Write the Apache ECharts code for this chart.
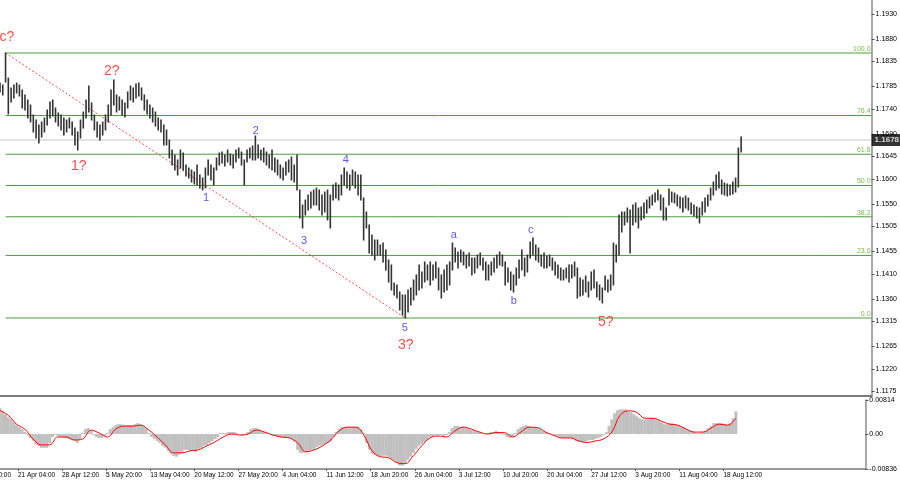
<!DOCTYPE html>
<html><head><meta charset="utf-8">
<script src="https://cdn.jsdelivr.net/npm/echarts@6/dist/echarts.min.js"></script>
<style>html,body{margin:0;padding:0;background:#fff}#c{width:900px;height:485px}</style>
</head><body><div id="c"></div>
<script>
// ---------- data ----------
const timeLabels = ['13 Apr 20:00','21 Apr 04:00','28 Apr 12:00','5 May 20:00','13 May 04:00','20 May 12:00','27 May 20:00','4 Jun 04:00','11 Jun 12:00','18 Jun 20:00','26 Jun 04:00','3 Jul 12:00','10 Jul 20:00','20 Jul 04:00','27 Jul 12:00','3 Aug 20:00','11 Aug 04:00','18 Aug 12:00'];
const priceTicks = [1.1175,1.1220,1.1265,1.1315,1.1360,1.1410,1.1455,1.1505,1.1550,1.1600,1.1645,1.1690,1.1740,1.1785,1.1835,1.1880,1.1930];
const macdTicks = [-0.00836, 0, 0.00814];
const highs = [
1.1792,1.1788,1.1852,1.1802,1.1782,1.1788,1.1792,1.1788,1.1778,1.1768,
1.1758,1.1748,1.1728,1.1718,1.1708,1.1714,1.1722,1.1738,1.1754,1.1758,
1.1742,1.1732,1.1728,1.1722,1.1718,1.1722,1.1714,1.1702,1.1694,1.1718,
1.1734,1.1758,1.1786,1.1752,1.1728,1.1714,1.1708,1.1714,1.1728,1.1748,
1.1778,1.1798,1.1768,1.1764,1.1758,1.1752,1.1774,1.1786,1.1782,1.1790,
1.1792,1.1782,1.1768,1.1758,1.1748,1.1742,1.1734,1.1722,1.1718,1.1708,
1.1698,1.1678,1.1658,1.1648,1.1638,1.1658,1.1652,1.1628,1.1622,1.1618,
1.1614,1.1628,1.1608,1.1602,1.1622,1.1638,1.1628,1.1622,1.1642,1.1652,
1.1654,1.1648,1.1658,1.1650,1.1648,1.1658,1.1662,1.1654,1.1638,1.1658,
1.1662,1.1666,1.1686,1.1668,1.1658,1.1662,1.1654,1.1648,1.1658,1.1642,
1.1638,1.1628,1.1622,1.1634,1.1638,1.1644,1.1628,1.1648,1.1578,1.1548,
1.1558,1.1568,1.1574,1.1578,1.1582,1.1578,1.1568,1.1574,1.1578,1.1568,
1.1588,1.1592,1.1588,1.1608,1.1622,1.1614,1.1608,1.1618,1.1614,1.1608,
1.1608,1.1562,1.1534,1.1508,1.1488,1.1478,1.1478,1.1468,1.1472,1.1458,
1.1438,1.1428,1.1392,1.1388,1.1374,1.1368,1.1368,1.1378,1.1382,1.1398,
1.1408,1.1428,1.1414,1.1434,1.1428,1.1434,1.1428,1.1434,1.1422,1.1408,
1.1418,1.1428,1.1434,1.1472,1.1462,1.1454,1.1458,1.1454,1.1448,1.1452,
1.1442,1.1442,1.1448,1.1452,1.1442,1.1434,1.1428,1.1434,1.1442,1.1448,
1.1454,1.1448,1.1434,1.1422,1.1414,1.1408,1.1422,1.1438,1.1458,1.1442,
1.1448,1.1474,1.1482,1.1468,1.1462,1.1448,1.1452,1.1446,1.1448,1.1442,
1.1434,1.1428,1.1422,1.1418,1.1422,1.1428,1.1428,1.1434,1.1422,1.1402,
1.1398,1.1406,1.1394,1.1414,1.1418,1.1394,1.1388,1.1382,1.1406,1.1398,
1.1408,1.1472,1.1468,1.1528,1.1534,1.1534,1.1542,1.1538,1.1548,1.1552,
1.1542,1.1544,1.1552,1.1558,1.1564,1.1568,1.1572,1.1578,1.1568,1.1562,
1.1542,1.1580,1.1574,1.1572,1.1568,1.1564,1.1562,1.1566,1.1562,1.1552,
1.1548,1.1544,1.1542,1.1554,1.1562,1.1568,1.1582,1.1594,1.1608,1.1614,
1.1598,1.1592,1.1590,1.1588,1.1594,1.1602,1.1662,1.1684];
const lows = [
1.1774,1.1768,1.1794,1.1730,1.1754,1.1762,1.1772,1.1766,1.1742,1.1738,
1.1722,1.1714,1.1694,1.1682,1.1672,1.1684,1.1694,1.1708,1.1722,1.1726,
1.1714,1.1706,1.1698,1.1688,1.1694,1.1702,1.1688,1.1668,1.1658,1.1682,
1.1702,1.1722,1.1734,1.1718,1.1698,1.1684,1.1678,1.1688,1.1698,1.1714,
1.1728,1.1748,1.1734,1.1738,1.1728,1.1724,1.1742,1.1758,1.1754,1.1762,
1.1766,1.1758,1.1738,1.1730,1.1722,1.1714,1.1706,1.1698,1.1694,1.1668,
1.1668,1.1642,1.1628,1.1618,1.1608,1.1622,1.1618,1.1606,1.1602,1.1594,
1.1590,1.1588,1.1582,1.1578,1.1582,1.1608,1.1598,1.1588,1.1618,1.1628,
1.1632,1.1626,1.1634,1.1628,1.1622,1.1634,1.1642,1.1628,1.1588,1.1634,
1.1642,1.1638,1.1638,1.1642,1.1638,1.1634,1.1628,1.1622,1.1618,1.1614,
1.1608,1.1602,1.1598,1.1608,1.1614,1.1598,1.1594,1.1578,1.1522,1.1502,
1.1528,1.1538,1.1542,1.1548,1.1548,1.1538,1.1528,1.1534,1.1518,1.1502,
1.1558,1.1562,1.1558,1.1568,1.1588,1.1582,1.1578,1.1588,1.1582,1.1568,
1.1558,1.1478,1.1502,1.1452,1.1448,1.1438,1.1448,1.1448,1.1434,1.1418,
1.1394,1.1378,1.1368,1.1362,1.1338,1.1328,1.1322,1.1334,1.1348,1.1358,
1.1368,1.1378,1.1382,1.1394,1.1398,1.1388,1.1398,1.1402,1.1378,1.1362,
1.1374,1.1378,1.1388,1.1418,1.1434,1.1422,1.1434,1.1428,1.1422,1.1426,
1.1408,1.1412,1.1422,1.1428,1.1418,1.1398,1.1398,1.1408,1.1414,1.1422,
1.1428,1.1426,1.1388,1.1394,1.1378,1.1374,1.1388,1.1402,1.1418,1.1406,
1.1414,1.1442,1.1448,1.1438,1.1434,1.1426,1.1422,1.1422,1.1426,1.1418,
1.1408,1.1402,1.1398,1.1398,1.1402,1.1394,1.1402,1.1406,1.1362,1.1366,
1.1368,1.1374,1.1364,1.1378,1.1382,1.1364,1.1358,1.1352,1.1378,1.1374,
1.1378,1.1388,1.1434,1.1448,1.1494,1.1508,1.1514,1.1452,1.1508,1.1514,
1.1502,1.1518,1.1522,1.1532,1.1542,1.1548,1.1554,1.1558,1.1538,1.1518,
1.1518,1.1548,1.1554,1.1552,1.1546,1.1542,1.1534,1.1542,1.1538,1.1530,
1.1526,1.1522,1.1512,1.1528,1.1534,1.1546,1.1558,1.1568,1.1578,1.1582,
1.1570,1.1568,1.1566,1.1568,1.1570,1.1574,1.1584,1.1654];
const lastClose = 1.1678;
const fibRatios = [0.0, 23.6, 38.2, 50.0, 61.8, 76.4, 100.0];
const macdHist = [
0.00614,0.00543,0.00472,0.00401,0.00354,0.00283,0.00212,0.00165,0.00118,0.00047,
-0.00024,-0.00094,-0.00165,-0.00236,-0.00283,-0.0033,-0.0033,-0.0033,-0.00212,-0.00071,
-0.00024,-0.00047,-0.00071,-0.00071,-0.00094,-0.00118,-0.00142,-0.00165,-0.00212,-0.00118,
0.00024,0.00118,0.00142,0.00071,-0.00024,-0.00071,-0.00094,-0.00094,-0.00047,0.00024,
0.00118,0.00165,0.00212,0.00236,0.00236,0.00212,0.00212,0.00212,0.00212,0.00236,
0.0026,0.00236,0.00189,0.00142,0.00024,-0.00071,-0.00118,-0.00165,-0.00212,-0.00283,
-0.0033,-0.00401,-0.00472,-0.00519,-0.00543,-0.00496,-0.00425,-0.00378,-0.00378,-0.00401,
-0.00401,-0.00425,-0.00354,-0.0033,-0.00283,-0.0026,-0.00212,-0.00165,-0.00118,-0.00071,
0.00024,0.00024,0.00024,0.00047,0.00047,0.00047,0.00024,0.00005,-0.00024,0.00005,
0.00047,0.00118,0.00142,0.00142,0.00118,0.00071,0.00047,0.00024,0.00005,-0.00024,
-0.00047,-0.00071,-0.00071,-0.00094,-0.00094,-0.00094,-0.00118,-0.00189,-0.00378,-0.00448,
-0.00448,-0.00425,-0.00401,-0.00378,-0.00354,-0.00307,-0.00283,-0.0026,-0.00236,-0.00212,
-0.00189,-0.00071,0.00047,0.00118,0.00165,0.00165,0.00165,0.00165,0.00165,0.00165,
0.00165,0.00118,0.00024,-0.00212,-0.00378,-0.00472,-0.00496,-0.00519,-0.00543,-0.00519,
-0.00519,-0.00543,-0.0059,-0.00637,-0.00684,-0.00755,-0.00755,-0.00708,-0.00614,-0.00543,
-0.00448,-0.00354,-0.00283,-0.00236,-0.00189,-0.00142,-0.00071,-0.00047,-0.00024,-0.00024,
-0.00024,-0.00071,-0.00024,0.00047,0.00142,0.00189,0.00189,0.00165,0.00165,0.00142,
0.00118,0.00094,0.00094,0.00071,0.00047,0.00024,0.00005,0.00024,0.00047,0.00047,
0.00071,0.00047,0.00024,-0.00024,-0.00071,-0.00094,-0.00071,0.00024,0.00118,0.00165,
0.00189,0.00212,0.00189,0.00165,0.00165,0.00142,0.00118,0.00071,0.00047,0.00024,
0.00005,-0.00024,-0.00047,-0.00071,-0.00094,-0.00094,-0.00094,-0.00094,-0.00118,-0.00165,
-0.00189,-0.00189,-0.00189,-0.00165,-0.00142,-0.00142,-0.00118,-0.00094,-0.00071,-0.00024,
0.00047,0.00189,0.00354,0.00496,0.00566,0.0059,0.0059,0.0059,0.00543,0.00519,
0.00472,0.00425,0.00378,0.00354,0.00354,0.00354,0.00378,0.00378,0.00354,0.0033,
0.00283,0.00236,0.00236,0.0026,0.0026,0.00236,0.00212,0.00189,0.00165,0.00118,
0.00094,0.00071,0.00047,0.00024,0.00024,0.00047,0.00071,0.00142,0.00189,0.0026,
0.0026,0.0026,0.0026,0.00236,0.00212,0.0026,0.00378,0.00543];
// signal line, read every 3rd bar
const signalStep = 3;
const macdSignal = [
0.00566,0.00448,0.00236,0.00118,-0.00118,-0.0026,-0.0026,-0.00071,-0.00071,-0.00142,
-0.00118,0.00094,0.00024,-0.00071,0.00118,0.00189,0.00189,0.00212,0.00094,-0.00071,
-0.0026,-0.00448,-0.00448,-0.00401,-0.00378,-0.00283,-0.00189,-0.00071,0,-0.00024,
0,0.00094,0.00047,-0.00024,-0.00071,-0.00094,-0.00212,-0.00425,-0.00378,-0.00283,
-0.00142,0.00071,0.00165,0.00165,-0.00024,-0.00401,-0.00543,-0.00566,-0.00684,-0.00708,
-0.00519,-0.00283,-0.00094,-0.00047,-0.00071,0.00071,0.00165,0.00118,0.00047,0,
0.00035,0.00035,-0.00071,0.00047,0.00165,0.00153,0.00047,-0.00035,-0.00094,-0.00094,
-0.00165,-0.00201,-0.00165,-0.00118,0.00047,0.00448,0.00555,0.00519,0.00378,0.00378,
0.00307,0.00236,0.00212,0.00118,0.00047,0.00047,0.00142,0.00236,0.00212,0.00378];
const waveTexts  = ['c?','2?','1?','1','2','3','4','5','3?','a','b','c','5?'];
const waveDegree = ['major','major','major','minor','minor','minor','minor','minor','major','minor','minor','minor','major'];
const waveBars   = [2.5, 40.3, 28.4, 74.2, 92.2, 109.5, 124.6, 145.8, 146.2, 163.5, 185.1, 191.2, 218.2];
const wavePrices = [1.1884, 1.1816, 1.1626, 1.1562, 1.1696, 1.1476, 1.1638, 1.1302, 1.1268, 1.1488, 1.1356, 1.1498, 1.1314];

// ---------- layout / style ----------
const X_MIN = 0, X_MAX = 314;
const FONT = 'Liberation Sans, Arial, sans-serif';
const labelBar = k => -9.5 + 16 * k;              // bar index where time label k starts
const tickBars = timeLabels.map((_, k) => labelBar(k)).filter(v => v >= X_MIN);

const maxHigh = Math.max(...highs), iHigh = highs.indexOf(maxHigh);
const minLow = Math.min(...lows), iLow = lows.indexOf(minLow);
const fibLevel = r => minLow + (maxHigh - minLow) * r / 100;

const series = [];
series.push({
  type: 'custom', xAxisIndex: 0, yAxisIndex: 0, silent: true, z: 5,
  data: highs.map((h, i) => [i, lows[i], h]),
  encode: { x: 0, y: [1, 2] },
  renderItem: (p, api) => {
    const a = api.coord([api.value(0), api.value(1)]);
    const b = api.coord([api.value(0), api.value(2)]);
    return { type: 'line', shape: { x1: a[0], y1: a[1] + 0.5, x2: b[0], y2: b[1] - 0.5 },
             style: { stroke: '#333', lineWidth: 1.6 } };
  }
});
fibRatios.forEach(r => {
  const v = fibLevel(r);
  series.push({
    type: 'line', xAxisIndex: 0, yAxisIndex: 0, silent: true, z: 3, symbol: 'none',
    data: [[iHigh, v], [X_MAX, v]],
    lineStyle: { color: '#4c9e3e', width: 1 }
  });
});
series.push({
  type: 'scatter', xAxisIndex: 0, yAxisIndex: 0, silent: true, symbolSize: 0, z: 6,
  data: fibRatios.map(r => ({ value: [X_MAX, fibLevel(r)], name: r.toFixed(1) })),
  label: { show: true, position: 'left', distance: 1, offset: [0, -4], formatter: p => p.name,
           color: '#5da825', fontSize: 7, fontFamily: FONT }
});
series.push({
  type: 'line', xAxisIndex: 0, yAxisIndex: 0, silent: true, z: 2, symbol: 'none',
  data: [[X_MIN, lastClose], [X_MAX, lastClose]],
  lineStyle: { color: '#c8c8c8', width: 1 }
});
series.push({
  type: 'scatter', xAxisIndex: 0, yAxisIndex: 0, silent: true, symbolSize: 0, z: 20,
  data: [[X_MAX, lastClose]],
  label: { show: true, position: 'right', distance: 0, formatter: lastClose.toFixed(4),
           color: '#fff', backgroundColor: '#000', padding: [2, 3, 2, 3],
           fontSize: 8, fontWeight: 'bold', fontFamily: FONT }
});
series.push({
  type: 'line', xAxisIndex: 0, yAxisIndex: 0, silent: true, z: 4, symbol: 'none',
  data: [[iHigh, maxHigh], [iLow, minLow]],
  lineStyle: { color: '#ff4a4a', width: 1, type: [2, 2] }
});
series.push({
  type: 'scatter', xAxisIndex: 0, yAxisIndex: 0, silent: true, symbolSize: 0, z: 10,
  data: waveTexts.map((t, k) => ({
    value: [waveBars[k], wavePrices[k]],
    label: { formatter: t,
      color: waveDegree[k] === 'major' ? '#ff1c1c' : '#2c2cff',
      fontSize: waveDegree[k] === 'major' ? 14 : 11 }
  })),
  label: { show: true, position: 'inside', fontFamily: FONT }
});
series.push({
  type: 'bar', xAxisIndex: 1, yAxisIndex: 1, silent: true, barWidth: 3,
  data: macdHist.map((v, i) => [i, v]),
  itemStyle: { color: '#c0c0c0' }
});
series.push({
  type: 'line', xAxisIndex: 1, yAxisIndex: 1, silent: true, symbol: 'none', smooth: 0.4, z: 5,
  data: macdSignal.map((v, k) => [k * signalStep, v]),
  lineStyle: { color: '#ff0000', width: 1 }
});

const chart = echarts.init(document.getElementById('c'), null, { renderer: 'canvas' });
chart.setOption({
  animation: false,
  backgroundColor: '#fff',
  textStyle: { fontFamily: FONT },
  grid: [
    { left: 0, right: 28, top: 0, height: 396 },
    { left: 0, right: 28, top: 400, height: 69 }
  ],
  xAxis: [
    { type: 'value', gridIndex: 0, min: X_MIN, max: X_MAX, position: 'bottom',
      axisLine: { show: true, onZero: false, lineStyle: { color: '#7a7a7a', width: 2 } },
      axisTick: { show: false }, axisLabel: { show: false }, splitLine: { show: false } },
    { type: 'value', gridIndex: 1, min: X_MIN, max: X_MAX, position: 'bottom',
      axisLine: { show: true, onZero: false, lineStyle: { color: '#7a7a7a', width: 1.5 } },
      axisTick: { show: true, length: 2, customValues: tickBars, lineStyle: { color: '#555' } },
      axisLabel: { show: true, customValues: tickBars, align: 'left', margin: 3,
        fontSize: 6.5, color: '#000', fontFamily: FONT,
        formatter: v => timeLabels[Math.round((v + 9.5) / 16)] },
      splitLine: { show: false } }
  ],
  yAxis: [
    { type: 'value', gridIndex: 0, position: 'right', min: 1.1166, max: 1.1958,
      axisLine: { show: true, onZero: false, lineStyle: { color: '#8c8c8c', width: 1.5 } },
      axisTick: { show: true, length: 3, customValues: priceTicks, lineStyle: { color: '#555' } },
      axisLabel: { show: true, customValues: priceTicks, margin: 4, fontSize: 7, color: '#000',
        fontFamily: FONT, formatter: v => v.toFixed(4) },
      splitLine: { show: false } },
    { type: 'value', gridIndex: 1, position: 'right', min: -0.00836, max: 0.00814,
      axisLine: { show: true, onZero: false, lineStyle: { color: '#8c8c8c', width: 1.5 } },
      axisTick: { show: true, length: 3, customValues: macdTicks, lineStyle: { color: '#555' } },
      axisLabel: { show: true, customValues: macdTicks, margin: 4, fontSize: 7, color: '#000',
        fontFamily: FONT, formatter: v => (v === 0 ? '0.00' : v.toFixed(5)) },
      splitLine: { show: false } }
  ],
  series: series
});
// the first time label starts left of the plot and is cut by the window edge
const firstX = chart.convertToPixel({ xAxisIndex: 1 }, labelBar(0));
const baseY = chart.convertToPixel({ yAxisIndex: 1 }, -0.00836);
chart.setOption({
  graphic: [{ type: 'text', x: firstX, y: baseY + 3, silent: true,
    style: { text: timeLabels[0], fill: '#000', fontSize: 6.5, fontFamily: FONT, textVerticalAlign: 'top' } }]
});
</script>
</body></html>
